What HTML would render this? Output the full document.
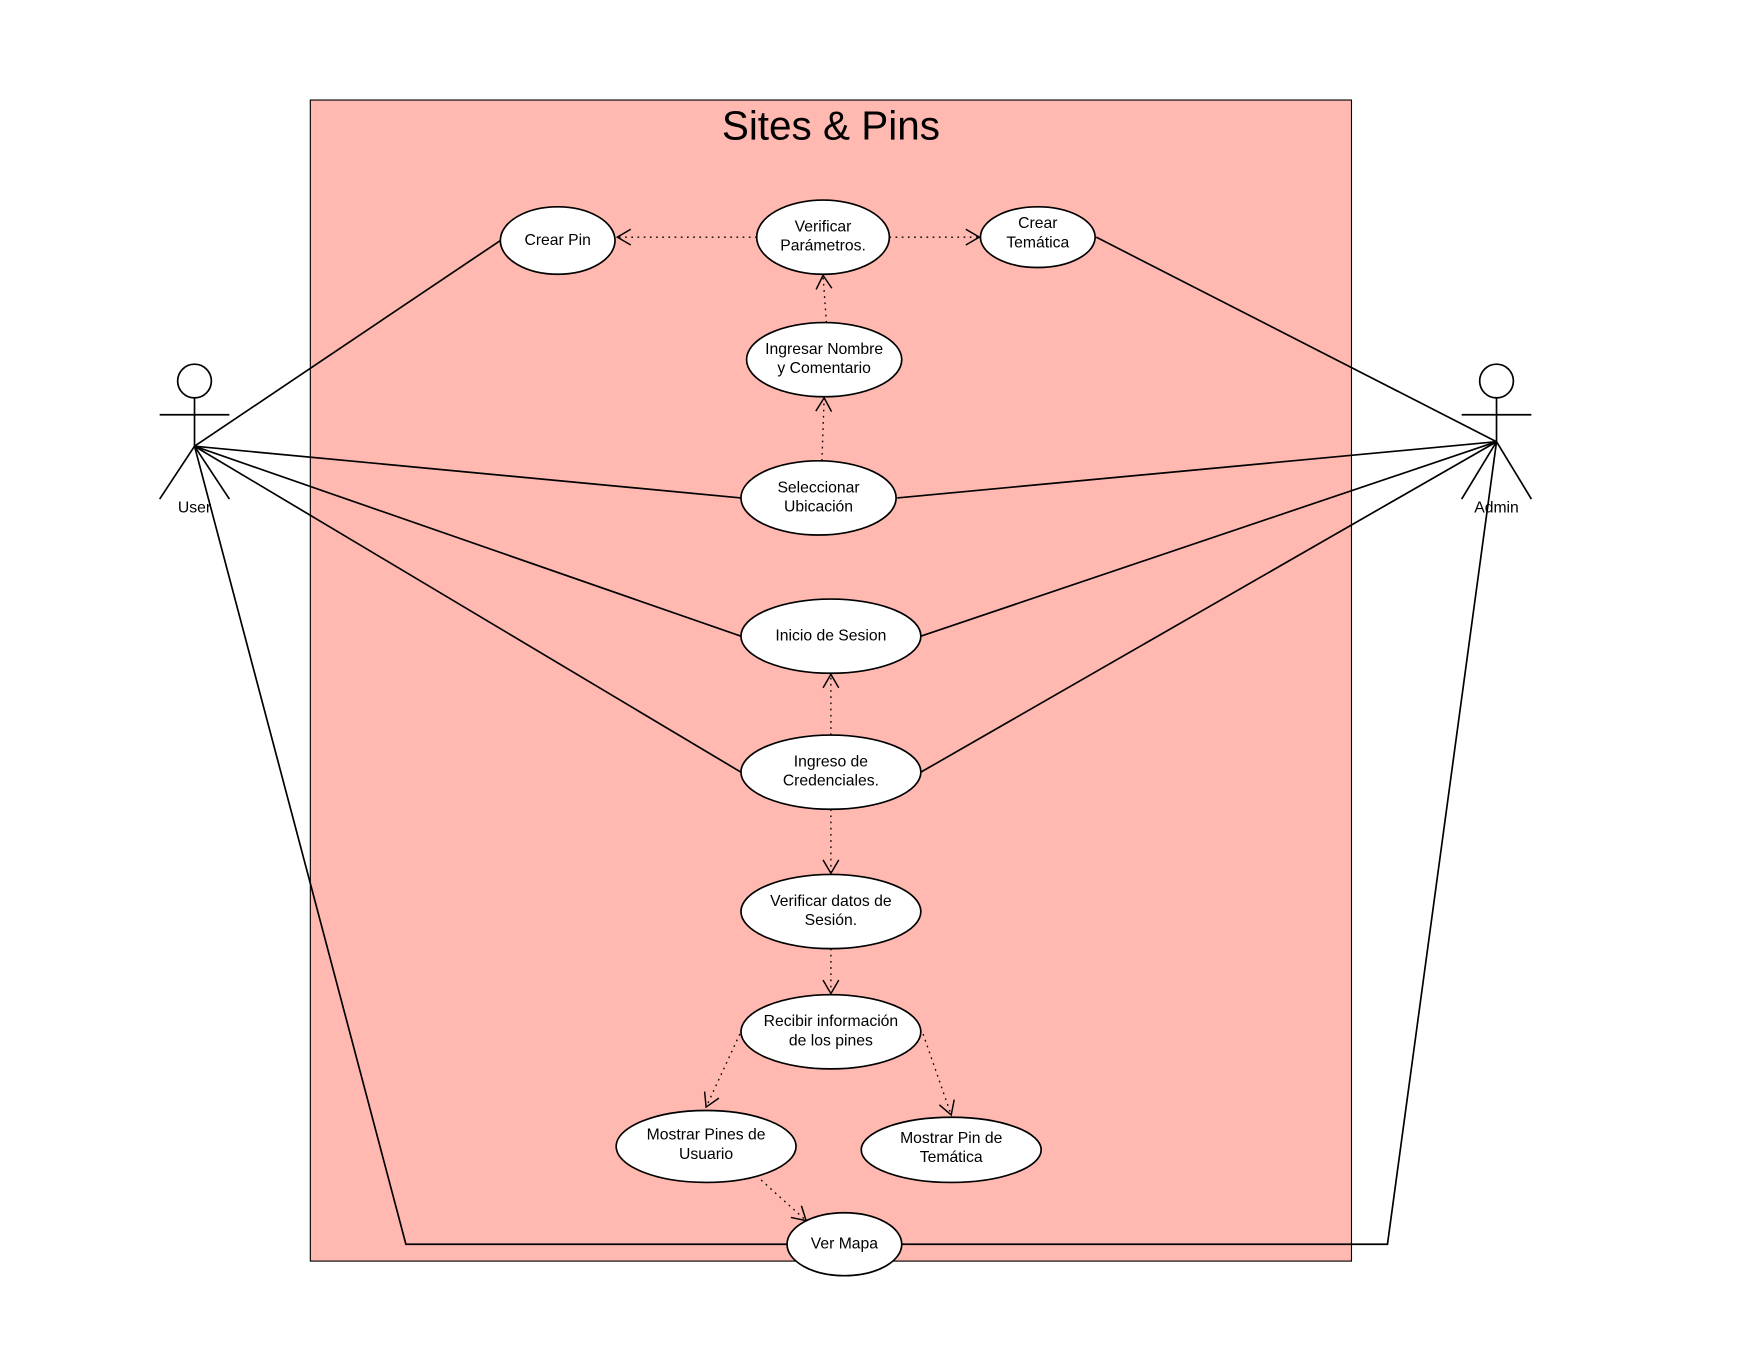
<!DOCTYPE html>
<html><head><meta charset="utf-8"><style>
html,body{margin:0;padding:0;background:#fff;}
svg{display:block;}
text{font-family:"Liberation Sans",sans-serif;fill:#000;}
</style></head><body>
<svg width="1763" height="1360" viewBox="0 0 1568 1210" preserveAspectRatio="none" xmlns="http://www.w3.org/2000/svg">
<defs>
<marker id="a" markerWidth="16" markerHeight="16" refX="13" refY="8" orient="auto" markerUnits="userSpaceOnUse">
<path d="M1,1 L13,8 L1,15" fill="none" stroke="#000" stroke-width="1.3"/>
</marker>
</defs>
<rect x="276" y="89" width="926" height="1033" fill="#FFB9B0" stroke="#000" stroke-width="1"/>
<text x="739" y="124" font-size="36" text-anchor="middle">Sites &amp; Pins</text>
<g stroke="#000" stroke-width="1.5" fill="none">
<line x1="173" y1="397" x2="445" y2="214"/>
<line x1="173" y1="397" x2="659" y2="443"/>
<line x1="173" y1="397" x2="659" y2="566"/>
<line x1="173" y1="397" x2="659" y2="687"/>
<polyline points="173,397 361,1107 700,1107"/>
<line x1="1331" y1="393" x2="975" y2="211"/>
<line x1="1331" y1="393" x2="798" y2="443"/>
<line x1="1331" y1="393" x2="819" y2="566"/>
<line x1="1331" y1="393" x2="819" y2="687"/>
<polyline points="1331,393 1234,1107 802,1107"/>
</g>
<g stroke="#000" stroke-width="1.2" stroke-dasharray="1.5,4" fill="none" marker-end="url(#a)">
<line x1="673" y1="211" x2="549" y2="211"/>
<line x1="791" y1="211" x2="871" y2="211"/>
<line x1="735" y1="287" x2="732" y2="245"/>
<line x1="731" y1="410" x2="733" y2="354"/>
<line x1="739" y1="654" x2="739" y2="600"/>
<line x1="739" y1="720" x2="739" y2="777"/>
<line x1="739" y1="844" x2="739" y2="884"/>
<line x1="658" y1="920" x2="628" y2="985"/>
<line x1="821" y1="920" x2="846" y2="992"/>
<line x1="677" y1="1050" x2="717" y2="1086"/>
</g>
<g stroke="#000" stroke-width="1.5" fill="#fff">
<ellipse cx="496" cy="214" rx="51" ry="30"/>
<ellipse cx="732" cy="211" rx="59" ry="33"/>
<ellipse cx="923" cy="211" rx="51" ry="27"/>
<ellipse cx="733" cy="320" rx="69" ry="33"/>
<ellipse cx="728" cy="443" rx="69" ry="33"/>
<ellipse cx="739" cy="566" rx="80" ry="33"/>
<ellipse cx="739" cy="687" rx="80" ry="33"/>
<ellipse cx="739" cy="811" rx="80" ry="33"/>
<ellipse cx="739" cy="918" rx="80" ry="33"/>
<ellipse cx="628" cy="1020" rx="80" ry="32"/>
<ellipse cx="846" cy="1023" rx="80" ry="29"/>
<ellipse cx="751" cy="1107" rx="51" ry="28"/>
</g>
<g font-size="14" text-anchor="middle">
<text x="496" y="218">Crear Pin</text>
<text x="732" y="206">Verificar</text><text x="732" y="223">Parámetros.</text>
<text x="923" y="203">Crear</text><text x="923" y="220">Temática</text>
<text x="733" y="315">Ingresar Nombre</text><text x="733" y="332">y Comentario</text>
<text x="728" y="438">Seleccionar</text><text x="728" y="455">Ubicación</text>
<text x="739" y="570">Inicio de Sesion</text>
<text x="739" y="682">Ingreso de</text><text x="739" y="699">Credenciales.</text>
<text x="739" y="806">Verificar datos de</text><text x="739" y="823">Sesión.</text>
<text x="739" y="913">Recibir información</text><text x="739" y="930">de los pines</text>
<text x="628" y="1014">Mostrar Pines de</text><text x="628" y="1031">Usuario</text>
<text x="846" y="1017">Mostrar Pin de</text><text x="846" y="1034">Temática</text>
<text x="751" y="1111">Ver Mapa</text>
<text x="173" y="456">User</text>
<text x="1331" y="456">Admin</text>
</g>
<g stroke="#000" stroke-width="1.5" fill="none">
<circle cx="173" cy="339" r="15" fill="#fff"/>
<line x1="173" y1="354" x2="173" y2="397"/>
<line x1="142" y1="369" x2="204" y2="369"/>
<line x1="173" y1="397" x2="142" y2="444"/>
<line x1="173" y1="397" x2="204" y2="444"/>
<circle cx="1331" cy="339" r="15" fill="#fff"/>
<line x1="1331" y1="354" x2="1331" y2="393"/>
<line x1="1300" y1="369" x2="1362" y2="369"/>
<line x1="1331" y1="393" x2="1300" y2="444"/>
<line x1="1331" y1="393" x2="1362" y2="444"/>
</g>
</svg>
</body></html>
